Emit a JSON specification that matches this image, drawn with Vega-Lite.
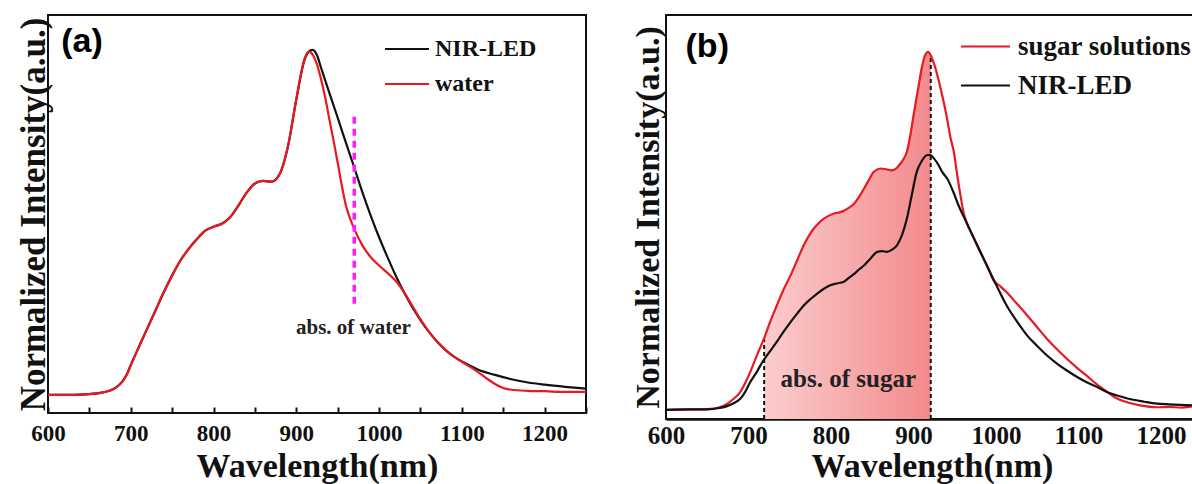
{
  "$schema": "https://vega.github.io/schema/vega-lite/v6.json",
  "padding": {"left": 15, "top": 14, "right": 0, "bottom": 0},
  "spacing": 38,
  "background": "white",
  "resolve": {"scale": {"color": "independent"}, "legend": {"color": "independent"}},
  "config": {
    "font": "Liberation Serif",
    "view": {"stroke": "#111111", "strokeWidth": 2},
    "axis": {
      "grid": false,
      "domain": false,
      "labelFont": "Liberation Serif",
      "labelFontWeight": "bold",
      "labelColor": "#111111",
      "titleFont": "Liberation Serif",
      "titleFontWeight": "bold",
      "titleColor": "#111111"
    },
    "legend": {
      "labelFont": "Liberation Serif",
      "labelFontWeight": "bold",
      "labelColor": "#111111",
      "labelLimit": 400,
      "symbolType": "stroke",
      "symbolStrokeWidth": 2
    }
  },
  "datasets": {
    "panelA": [
      {"wl": 600, "v": 0.050, "series": "NIR-LED"},
      {"wl": 630, "v": 0.050, "series": "NIR-LED"},
      {"wl": 650, "v": 0.052, "series": "NIR-LED"},
      {"wl": 665, "v": 0.056, "series": "NIR-LED"},
      {"wl": 675, "v": 0.062, "series": "NIR-LED"},
      {"wl": 682, "v": 0.070, "series": "NIR-LED"},
      {"wl": 690, "v": 0.087, "series": "NIR-LED"},
      {"wl": 695, "v": 0.105, "series": "NIR-LED"},
      {"wl": 700, "v": 0.132, "series": "NIR-LED"},
      {"wl": 710, "v": 0.183, "series": "NIR-LED"},
      {"wl": 720, "v": 0.233, "series": "NIR-LED"},
      {"wl": 730, "v": 0.283, "series": "NIR-LED"},
      {"wl": 740, "v": 0.333, "series": "NIR-LED"},
      {"wl": 750, "v": 0.379, "series": "NIR-LED"},
      {"wl": 760, "v": 0.420, "series": "NIR-LED"},
      {"wl": 770, "v": 0.452, "series": "NIR-LED"},
      {"wl": 780, "v": 0.479, "series": "NIR-LED"},
      {"wl": 790, "v": 0.502, "series": "NIR-LED"},
      {"wl": 800, "v": 0.513, "series": "NIR-LED"},
      {"wl": 810, "v": 0.521, "series": "NIR-LED"},
      {"wl": 820, "v": 0.539, "series": "NIR-LED"},
      {"wl": 830, "v": 0.571, "series": "NIR-LED"},
      {"wl": 840, "v": 0.607, "series": "NIR-LED"},
      {"wl": 850, "v": 0.632, "series": "NIR-LED"},
      {"wl": 860, "v": 0.639, "series": "NIR-LED"},
      {"wl": 870, "v": 0.637, "series": "NIR-LED"},
      {"wl": 880, "v": 0.658, "series": "NIR-LED"},
      {"wl": 890, "v": 0.735, "series": "NIR-LED"},
      {"wl": 900, "v": 0.863, "series": "NIR-LED"},
      {"wl": 910, "v": 0.973, "series": "NIR-LED"},
      {"wl": 915, "v": 0.995, "series": "NIR-LED"},
      {"wl": 920, "v": 1.000, "series": "NIR-LED"},
      {"wl": 925, "v": 0.985, "series": "NIR-LED"},
      {"wl": 930, "v": 0.950, "series": "NIR-LED"},
      {"wl": 940, "v": 0.881, "series": "NIR-LED"},
      {"wl": 950, "v": 0.813, "series": "NIR-LED"},
      {"wl": 960, "v": 0.744, "series": "NIR-LED"},
      {"wl": 970, "v": 0.676, "series": "NIR-LED"},
      {"wl": 980, "v": 0.607, "series": "NIR-LED"},
      {"wl": 990, "v": 0.543, "series": "NIR-LED"},
      {"wl": 1000, "v": 0.484, "series": "NIR-LED"},
      {"wl": 1010, "v": 0.430, "series": "NIR-LED"},
      {"wl": 1020, "v": 0.379, "series": "NIR-LED"},
      {"wl": 1030, "v": 0.333, "series": "NIR-LED"},
      {"wl": 1040, "v": 0.292, "series": "NIR-LED"},
      {"wl": 1050, "v": 0.256, "series": "NIR-LED"},
      {"wl": 1060, "v": 0.224, "series": "NIR-LED"},
      {"wl": 1070, "v": 0.197, "series": "NIR-LED"},
      {"wl": 1080, "v": 0.174, "series": "NIR-LED"},
      {"wl": 1090, "v": 0.156, "series": "NIR-LED"},
      {"wl": 1100, "v": 0.142, "series": "NIR-LED"},
      {"wl": 1110, "v": 0.130, "series": "NIR-LED"},
      {"wl": 1120, "v": 0.119, "series": "NIR-LED"},
      {"wl": 1140, "v": 0.105, "series": "NIR-LED"},
      {"wl": 1160, "v": 0.093, "series": "NIR-LED"},
      {"wl": 1180, "v": 0.084, "series": "NIR-LED"},
      {"wl": 1200, "v": 0.078, "series": "NIR-LED"},
      {"wl": 1225, "v": 0.072, "series": "NIR-LED"},
      {"wl": 1250, "v": 0.067, "series": "NIR-LED"},
      {"wl": 600, "v": 0.050, "series": "water"},
      {"wl": 630, "v": 0.050, "series": "water"},
      {"wl": 650, "v": 0.052, "series": "water"},
      {"wl": 665, "v": 0.056, "series": "water"},
      {"wl": 675, "v": 0.062, "series": "water"},
      {"wl": 682, "v": 0.070, "series": "water"},
      {"wl": 690, "v": 0.087, "series": "water"},
      {"wl": 695, "v": 0.105, "series": "water"},
      {"wl": 700, "v": 0.132, "series": "water"},
      {"wl": 710, "v": 0.183, "series": "water"},
      {"wl": 720, "v": 0.233, "series": "water"},
      {"wl": 730, "v": 0.283, "series": "water"},
      {"wl": 740, "v": 0.333, "series": "water"},
      {"wl": 750, "v": 0.379, "series": "water"},
      {"wl": 760, "v": 0.420, "series": "water"},
      {"wl": 770, "v": 0.452, "series": "water"},
      {"wl": 780, "v": 0.479, "series": "water"},
      {"wl": 790, "v": 0.502, "series": "water"},
      {"wl": 800, "v": 0.513, "series": "water"},
      {"wl": 810, "v": 0.521, "series": "water"},
      {"wl": 820, "v": 0.539, "series": "water"},
      {"wl": 830, "v": 0.571, "series": "water"},
      {"wl": 840, "v": 0.607, "series": "water"},
      {"wl": 850, "v": 0.632, "series": "water"},
      {"wl": 860, "v": 0.639, "series": "water"},
      {"wl": 870, "v": 0.637, "series": "water"},
      {"wl": 880, "v": 0.658, "series": "water"},
      {"wl": 890, "v": 0.735, "series": "water"},
      {"wl": 900, "v": 0.865, "series": "water"},
      {"wl": 910, "v": 0.975, "series": "water"},
      {"wl": 915, "v": 0.995, "series": "water"},
      {"wl": 920, "v": 0.986, "series": "water"},
      {"wl": 925, "v": 0.960, "series": "water"},
      {"wl": 930, "v": 0.918, "series": "water"},
      {"wl": 935, "v": 0.868, "series": "water"},
      {"wl": 940, "v": 0.808, "series": "water"},
      {"wl": 945, "v": 0.750, "series": "water"},
      {"wl": 950, "v": 0.689, "series": "water"},
      {"wl": 955, "v": 0.626, "series": "water"},
      {"wl": 960, "v": 0.571, "series": "water"},
      {"wl": 965, "v": 0.535, "series": "water"},
      {"wl": 970, "v": 0.507, "series": "water"},
      {"wl": 980, "v": 0.461, "series": "water"},
      {"wl": 990, "v": 0.429, "series": "water"},
      {"wl": 1000, "v": 0.406, "series": "water"},
      {"wl": 1010, "v": 0.386, "series": "water"},
      {"wl": 1020, "v": 0.364, "series": "water"},
      {"wl": 1030, "v": 0.333, "series": "water"},
      {"wl": 1040, "v": 0.296, "series": "water"},
      {"wl": 1050, "v": 0.258, "series": "water"},
      {"wl": 1060, "v": 0.225, "series": "water"},
      {"wl": 1070, "v": 0.197, "series": "water"},
      {"wl": 1080, "v": 0.174, "series": "water"},
      {"wl": 1090, "v": 0.156, "series": "water"},
      {"wl": 1100, "v": 0.141, "series": "water"},
      {"wl": 1110, "v": 0.127, "series": "water"},
      {"wl": 1120, "v": 0.112, "series": "water"},
      {"wl": 1130, "v": 0.095, "series": "water"},
      {"wl": 1140, "v": 0.080, "series": "water"},
      {"wl": 1150, "v": 0.069, "series": "water"},
      {"wl": 1160, "v": 0.064, "series": "water"},
      {"wl": 1180, "v": 0.061, "series": "water"},
      {"wl": 1200, "v": 0.060, "series": "water"},
      {"wl": 1225, "v": 0.058, "series": "water"},
      {"wl": 1250, "v": 0.058, "series": "water"}
    ],
    "panelB": [
      {"wl": 600, "v": 0.025, "series": "sugar solutions"},
      {"wl": 630, "v": 0.026, "series": "sugar solutions"},
      {"wl": 650, "v": 0.027, "series": "sugar solutions"},
      {"wl": 665, "v": 0.032, "series": "sugar solutions"},
      {"wl": 674, "v": 0.041, "series": "sugar solutions"},
      {"wl": 682, "v": 0.055, "series": "sugar solutions"},
      {"wl": 690, "v": 0.073, "series": "sugar solutions"},
      {"wl": 696, "v": 0.098, "series": "sugar solutions"},
      {"wl": 702, "v": 0.127, "series": "sugar solutions"},
      {"wl": 710, "v": 0.172, "series": "sugar solutions"},
      {"wl": 719, "v": 0.220, "series": "sugar solutions"},
      {"wl": 726, "v": 0.263, "series": "sugar solutions"},
      {"wl": 734, "v": 0.307, "series": "sugar solutions"},
      {"wl": 742, "v": 0.350, "series": "sugar solutions"},
      {"wl": 751, "v": 0.391, "series": "sugar solutions"},
      {"wl": 759, "v": 0.432, "series": "sugar solutions"},
      {"wl": 767, "v": 0.473, "series": "sugar solutions"},
      {"wl": 773, "v": 0.498, "series": "sugar solutions"},
      {"wl": 779, "v": 0.518, "series": "sugar solutions"},
      {"wl": 785, "v": 0.533, "series": "sugar solutions"},
      {"wl": 791, "v": 0.545, "series": "sugar solutions"},
      {"wl": 797, "v": 0.553, "series": "sugar solutions"},
      {"wl": 803, "v": 0.559, "series": "sugar solutions"},
      {"wl": 809, "v": 0.562, "series": "sugar solutions"},
      {"wl": 815, "v": 0.566, "series": "sugar solutions"},
      {"wl": 821, "v": 0.574, "series": "sugar solutions"},
      {"wl": 828, "v": 0.586, "series": "sugar solutions"},
      {"wl": 834, "v": 0.605, "series": "sugar solutions"},
      {"wl": 840, "v": 0.627, "series": "sugar solutions"},
      {"wl": 846, "v": 0.651, "series": "sugar solutions"},
      {"wl": 852, "v": 0.673, "series": "sugar solutions"},
      {"wl": 860, "v": 0.682, "series": "sugar solutions"},
      {"wl": 867, "v": 0.680, "series": "sugar solutions"},
      {"wl": 874, "v": 0.677, "series": "sugar solutions"},
      {"wl": 880, "v": 0.684, "series": "sugar solutions"},
      {"wl": 884, "v": 0.695, "series": "sugar solutions"},
      {"wl": 888, "v": 0.708, "series": "sugar solutions"},
      {"wl": 892, "v": 0.727, "series": "sugar solutions"},
      {"wl": 896, "v": 0.770, "series": "sugar solutions"},
      {"wl": 900, "v": 0.825, "series": "sugar solutions"},
      {"wl": 905, "v": 0.890, "series": "sugar solutions"},
      {"wl": 910, "v": 0.955, "series": "sugar solutions"},
      {"wl": 914, "v": 0.990, "series": "sugar solutions"},
      {"wl": 918, "v": 1.000, "series": "sugar solutions"},
      {"wl": 921, "v": 0.990, "series": "sugar solutions"},
      {"wl": 926, "v": 0.960, "series": "sugar solutions"},
      {"wl": 930, "v": 0.927, "series": "sugar solutions"},
      {"wl": 935, "v": 0.880, "series": "sugar solutions"},
      {"wl": 940, "v": 0.827, "series": "sugar solutions"},
      {"wl": 945, "v": 0.765, "series": "sugar solutions"},
      {"wl": 949, "v": 0.727, "series": "sugar solutions"},
      {"wl": 953, "v": 0.665, "series": "sugar solutions"},
      {"wl": 957, "v": 0.609, "series": "sugar solutions"},
      {"wl": 961, "v": 0.560, "series": "sugar solutions"},
      {"wl": 965, "v": 0.532, "series": "sugar solutions"},
      {"wl": 970, "v": 0.507, "series": "sugar solutions"},
      {"wl": 980, "v": 0.459, "series": "sugar solutions"},
      {"wl": 990, "v": 0.414, "series": "sugar solutions"},
      {"wl": 997, "v": 0.378, "series": "sugar solutions"},
      {"wl": 1005, "v": 0.362, "series": "sugar solutions"},
      {"wl": 1013, "v": 0.345, "series": "sugar solutions"},
      {"wl": 1025, "v": 0.315, "series": "sugar solutions"},
      {"wl": 1038, "v": 0.282, "series": "sugar solutions"},
      {"wl": 1050, "v": 0.250, "series": "sugar solutions"},
      {"wl": 1062, "v": 0.218, "series": "sugar solutions"},
      {"wl": 1074, "v": 0.190, "series": "sugar solutions"},
      {"wl": 1086, "v": 0.164, "series": "sugar solutions"},
      {"wl": 1098, "v": 0.140, "series": "sugar solutions"},
      {"wl": 1110, "v": 0.118, "series": "sugar solutions"},
      {"wl": 1122, "v": 0.095, "series": "sugar solutions"},
      {"wl": 1136, "v": 0.072, "series": "sugar solutions"},
      {"wl": 1145, "v": 0.058, "series": "sugar solutions"},
      {"wl": 1160, "v": 0.045, "series": "sugar solutions"},
      {"wl": 1175, "v": 0.037, "series": "sugar solutions"},
      {"wl": 1195, "v": 0.032, "series": "sugar solutions"},
      {"wl": 1210, "v": 0.033, "series": "sugar solutions"},
      {"wl": 1225, "v": 0.031, "series": "sugar solutions"},
      {"wl": 1240, "v": 0.035, "series": "sugar solutions"},
      {"wl": 1245, "v": 0.036, "series": "sugar solutions"},
      {"wl": 600, "v": 0.025, "series": "NIR-LED"},
      {"wl": 630, "v": 0.026, "series": "NIR-LED"},
      {"wl": 650, "v": 0.026, "series": "NIR-LED"},
      {"wl": 665, "v": 0.030, "series": "NIR-LED"},
      {"wl": 674, "v": 0.035, "series": "NIR-LED"},
      {"wl": 682, "v": 0.043, "series": "NIR-LED"},
      {"wl": 690, "v": 0.055, "series": "NIR-LED"},
      {"wl": 696, "v": 0.074, "series": "NIR-LED"},
      {"wl": 702, "v": 0.100, "series": "NIR-LED"},
      {"wl": 710, "v": 0.128, "series": "NIR-LED"},
      {"wl": 718, "v": 0.159, "series": "NIR-LED"},
      {"wl": 726, "v": 0.184, "series": "NIR-LED"},
      {"wl": 734, "v": 0.209, "series": "NIR-LED"},
      {"wl": 742, "v": 0.236, "series": "NIR-LED"},
      {"wl": 751, "v": 0.264, "series": "NIR-LED"},
      {"wl": 759, "v": 0.287, "series": "NIR-LED"},
      {"wl": 767, "v": 0.309, "series": "NIR-LED"},
      {"wl": 775, "v": 0.326, "series": "NIR-LED"},
      {"wl": 783, "v": 0.341, "series": "NIR-LED"},
      {"wl": 791, "v": 0.354, "series": "NIR-LED"},
      {"wl": 799, "v": 0.364, "series": "NIR-LED"},
      {"wl": 807, "v": 0.369, "series": "NIR-LED"},
      {"wl": 815, "v": 0.373, "series": "NIR-LED"},
      {"wl": 821, "v": 0.383, "series": "NIR-LED"},
      {"wl": 828, "v": 0.395, "series": "NIR-LED"},
      {"wl": 834, "v": 0.407, "series": "NIR-LED"},
      {"wl": 840, "v": 0.418, "series": "NIR-LED"},
      {"wl": 848, "v": 0.437, "series": "NIR-LED"},
      {"wl": 856, "v": 0.455, "series": "NIR-LED"},
      {"wl": 862, "v": 0.457, "series": "NIR-LED"},
      {"wl": 868, "v": 0.455, "series": "NIR-LED"},
      {"wl": 874, "v": 0.461, "series": "NIR-LED"},
      {"wl": 880, "v": 0.473, "series": "NIR-LED"},
      {"wl": 886, "v": 0.500, "series": "NIR-LED"},
      {"wl": 892, "v": 0.545, "series": "NIR-LED"},
      {"wl": 898, "v": 0.610, "series": "NIR-LED"},
      {"wl": 904, "v": 0.673, "series": "NIR-LED"},
      {"wl": 910, "v": 0.702, "series": "NIR-LED"},
      {"wl": 916, "v": 0.718, "series": "NIR-LED"},
      {"wl": 920, "v": 0.719, "series": "NIR-LED"},
      {"wl": 925, "v": 0.709, "series": "NIR-LED"},
      {"wl": 930, "v": 0.693, "series": "NIR-LED"},
      {"wl": 935, "v": 0.672, "series": "NIR-LED"},
      {"wl": 941, "v": 0.654, "series": "NIR-LED"},
      {"wl": 948, "v": 0.620, "series": "NIR-LED"},
      {"wl": 955, "v": 0.580, "series": "NIR-LED"},
      {"wl": 965, "v": 0.532, "series": "NIR-LED"},
      {"wl": 977, "v": 0.475, "series": "NIR-LED"},
      {"wl": 989, "v": 0.418, "series": "NIR-LED"},
      {"wl": 1001, "v": 0.362, "series": "NIR-LED"},
      {"wl": 1013, "v": 0.309, "series": "NIR-LED"},
      {"wl": 1025, "v": 0.267, "series": "NIR-LED"},
      {"wl": 1038, "v": 0.227, "series": "NIR-LED"},
      {"wl": 1050, "v": 0.199, "series": "NIR-LED"},
      {"wl": 1062, "v": 0.173, "series": "NIR-LED"},
      {"wl": 1074, "v": 0.151, "series": "NIR-LED"},
      {"wl": 1086, "v": 0.132, "series": "NIR-LED"},
      {"wl": 1098, "v": 0.115, "series": "NIR-LED"},
      {"wl": 1110, "v": 0.100, "series": "NIR-LED"},
      {"wl": 1122, "v": 0.088, "series": "NIR-LED"},
      {"wl": 1136, "v": 0.072, "series": "NIR-LED"},
      {"wl": 1150, "v": 0.062, "series": "NIR-LED"},
      {"wl": 1165, "v": 0.053, "series": "NIR-LED"},
      {"wl": 1180, "v": 0.047, "series": "NIR-LED"},
      {"wl": 1195, "v": 0.042, "series": "NIR-LED"},
      {"wl": 1210, "v": 0.040, "series": "NIR-LED"},
      {"wl": 1230, "v": 0.038, "series": "NIR-LED"},
      {"wl": 1245, "v": 0.037, "series": "NIR-LED"}
    ]
  },
  "hconcat": [
    {
      "width": 538,
      "height": 398,
      "encoding": {
        "x": {
          "field": "wl", "type": "quantitative",
          "scale": {"domain": [600, 1250], "nice": false, "zero": false},
          "axis": {
            "title": "Wavelength(nm)",
            "format": "d",
            "values": [600, 650, 700, 750, 800, 850, 900, 950, 1000, 1050, 1100, 1150, 1200, 1250],
            "labelExpr": "datum.value % 100 === 0 ? datum.label : ''",
            "tickSize": -6, "tickWidth": 2, "tickColor": "#111111",
            "labelFontSize": 23, "labelPadding": 15,
            "labelFlush": false, "labelOverlap": false,
            "titleFontSize": 34, "titleBaseline": "alphabetic", "titleY": 63
          }
        },
        "y": {
          "field": "v", "type": "quantitative",
          "scale": {"domain": [0, 1.096], "nice": false},
          "axis": {
            "title": "Normalized Intensity(a.u.)",
            "labels": false, "ticks": false,
            "titleFontSize": 35, "titleBaseline": "alphabetic", "titleX": -4
          }
        }
      },
      "layer": [
        {
          "data": {"name": "panelA"},
          "transform": [{"filter": {"field": "series", "equal": "NIR-LED"}}],
          "mark": {"type": "line", "strokeWidth": 2.2, "interpolate": "monotone"},
          "encoding": {
            "color": {
              "field": "series", "type": "nominal",
              "scale": {"domain": ["NIR-LED", "water"], "range": ["#111111", "#e8191f"]},
              "legend": {
                "title": null, "orient": "none", "legendX": 336, "legendY": 11,
                "symbolSize": 1936, "labelFontSize": 24, "labelOffset": 5, "rowPadding": -11
              }
            }
          }
        },
        {
          "data": {"name": "panelA"},
          "transform": [{"filter": {"field": "series", "equal": "water"}}],
          "mark": {"type": "line", "strokeWidth": 2.2, "interpolate": "monotone"},
          "encoding": {"color": {"field": "series", "type": "nominal"}}
        },
        {
          "data": {"values": [{"wl": 970, "lo": 0.301, "hi": 0.826}]},
          "mark": {"type": "rule", "color": "#ff1aff", "strokeWidth": 3.5, "strokeDash": [7, 5]},
          "encoding": {"y": {"field": "lo", "type": "quantitative"}, "y2": {"field": "hi"}}
        },
        {
          "data": {"values": [{"wl": 969, "v": 0.233, "note": "abs. of water"}]},
          "mark": {"type": "text", "font": "Liberation Serif", "fontWeight": "bold", "fontSize": 21, "color": "#222222", "align": "center", "baseline": "middle"},
          "encoding": {"text": {"field": "note"}}
        },
        {
          "data": {"values": [{"wl": 641, "v": 1.022, "note": "(a)"}]},
          "mark": {"type": "text", "font": "Liberation Sans", "fontWeight": "bold", "fontSize": 34, "color": "#000000", "align": "center", "baseline": "middle"},
          "encoding": {"text": {"field": "note"}}
        }
      ]
    },
    {
      "width": 532,
      "height": 404,
      "encoding": {
        "x": {
          "field": "wl", "type": "quantitative",
          "scale": {"domain": [600, 1245], "nice": false, "zero": false},
          "axis": {
            "title": "Wavelength(nm)",
            "format": "d",
            "values": [600, 700, 800, 900, 1000, 1100, 1200],
            "ticks": false, "domain": true, "domainWidth": 2.5, "domainColor": "#111111",
            "labelFontSize": 25, "labelPadding": 4,
            "labelFlush": false, "labelOverlap": false,
            "titleFontSize": 34, "titleBaseline": "alphabetic", "titleY": 57
          }
        },
        "y": {
          "field": "v", "type": "quantitative",
          "scale": {"domain": [0, 1.1], "nice": false},
          "axis": {
            "title": "Normalized Intensity(a.u.)",
            "labels": false, "ticks": false,
            "titleFontSize": 34, "titleBaseline": "alphabetic", "titleX": -8
          }
        }
      },
      "layer": [
        {
          "data": {"name": "panelB"},
          "transform": [
            {"filter": {"field": "series", "equal": "sugar solutions"}},
            {"filter": {"field": "wl", "range": [719, 921]}}
          ],
          "mark": {
            "type": "area", "interpolate": "monotone",
            "fill": {
              "gradient": "linear", "x1": 0, "x2": 1, "y1": 0, "y2": 0,
              "stops": [
                {"offset": 0, "color": "#fbcdcd"},
                {"offset": 1, "color": "#f38a8c"}
              ]
            }
          }
        },
        {
          "data": {"values": [{"wl": 719, "lo": 0, "top": 0.218}, {"wl": 921, "lo": 0, "top": 0.99}]},
          "mark": {"type": "rule", "color": "#111111", "strokeWidth": 2, "strokeDash": [4, 3]},
          "encoding": {"y": {"field": "lo", "type": "quantitative"}, "y2": {"field": "top"}}
        },
        {
          "data": {"values": [{"wl": 821, "v": 0.109, "note": "abs. of sugar"}]},
          "mark": {"type": "text", "font": "Liberation Serif", "fontWeight": "bold", "fontSize": 25, "color": "#222222", "align": "center", "baseline": "middle"},
          "encoding": {"text": {"field": "note"}}
        },
        {
          "data": {"name": "panelB"},
          "transform": [{"filter": {"field": "series", "equal": "sugar solutions"}}],
          "mark": {"type": "line", "strokeWidth": 2.2, "interpolate": "monotone"},
          "encoding": {
            "color": {
              "field": "series", "type": "nominal",
              "scale": {"domain": ["sugar solutions", "NIR-LED"], "range": ["#e8191f", "#111111"]},
              "legend": {
                "title": null, "orient": "none", "legendX": 294, "legendY": 6,
                "symbolSize": 2401, "labelFontSize": 27, "labelOffset": 7, "rowPadding": -17
              }
            }
          }
        },
        {
          "data": {"name": "panelB"},
          "transform": [{"filter": {"field": "series", "equal": "NIR-LED"}}],
          "mark": {"type": "line", "strokeWidth": 2.2, "interpolate": "monotone"},
          "encoding": {"color": {"field": "series", "type": "nominal"}}
        },
        {
          "data": {"values": [{"wl": 650, "v": 1.013, "note": "(b)"}]},
          "mark": {"type": "text", "font": "Liberation Sans", "fontWeight": "bold", "fontSize": 34, "color": "#000000", "align": "center", "baseline": "middle"},
          "encoding": {"text": {"field": "note"}}
        }
      ]
    }
  ]
}
